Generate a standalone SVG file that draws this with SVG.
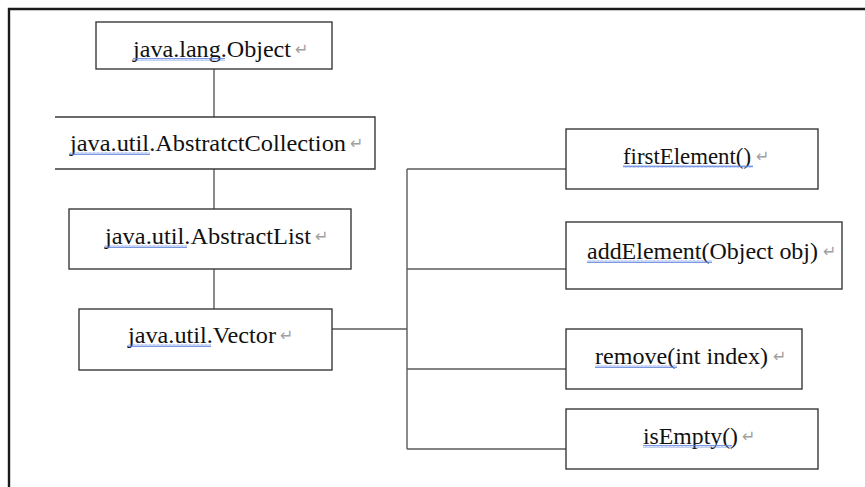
<svg xmlns="http://www.w3.org/2000/svg" width="865" height="487" viewBox="0 0 865 487">
<defs>
<pattern id="wave" x="0" y="0" width="4" height="3" patternUnits="userSpaceOnUse">
<path d="M0,2.5 L1,0.5 L2,2.5 L3,0.5 L4,2.5" fill="none" stroke="#5b7fe0" stroke-width="0.8"/>
</pattern>
<style>
.box{fill:#fff;stroke:#3a3a3a;stroke-width:1.4}
.lbl{font-family:'Liberation Serif','Times New Roman',serif;font-size:24px;fill:#111}
.ret{font-family:'DejaVu Sans',sans-serif;font-size:16px;fill:#a0a0a0}
.conn{fill:none;stroke:#5a5a5a;stroke-width:1.4}
.sq{fill:url(#wave)}
</style>
</defs>
<rect width="865" height="487" fill="#fff"/>
<path d="M9,487 V9 H865" fill="none" stroke="#1a1a1a" stroke-width="2.4"/>

<g id="connectors">
<path class="conn" d="M214,69 V117"/>
<path class="conn" d="M214,169 V209"/>
<path class="conn" d="M214,269 V309"/>
<path class="conn" d="M332,329 H407"/>
<path class="conn" d="M407,169 V449"/>
<path class="conn" d="M407,169 H566"/>
<path class="conn" d="M407,269 H566"/>
<path class="conn" d="M407,369 H566"/>
<path class="conn" d="M407,449 H566"/>
</g>

<g id="object">
<rect class="box" x="96" y="22" width="236" height="47"/>
<text class="lbl" x="133" y="57" textLength="158" lengthAdjust="spacingAndGlyphs">java.lang.Object</text>
<text class="ret" x="295" y="55">↵</text>
<rect class="sq" x="133" y="58" width="92" height="3"/>
</g>

<g id="abstractCollection">
<path d="M55,117 H375 V169 H55" fill="#fff" stroke="#3a3a3a" stroke-width="1.4"/>
<text class="lbl" x="70" y="151" textLength="276" lengthAdjust="spacingAndGlyphs">java.util.AbstratctCollection</text>
<text class="ret" x="350" y="149">↵</text>
<rect class="sq" x="70" y="152" width="80" height="3"/>
</g>

<g id="abstractList">
<rect class="box" x="69" y="209" width="282" height="60"/>
<text class="lbl" x="105" y="244" textLength="206" lengthAdjust="spacingAndGlyphs">java.util.AbstractList</text>
<text class="ret" x="315" y="242">↵</text>
<rect class="sq" x="105" y="245" width="82" height="3"/>
</g>

<g id="vector">
<rect class="box" x="79" y="309" width="253" height="61"/>
<text class="lbl" x="128" y="343" textLength="148" lengthAdjust="spacingAndGlyphs">java.util.Vector</text>
<text class="ret" x="280" y="341">↵</text>
<rect class="sq" x="128" y="344" width="83" height="3"/>
</g>

<g id="firstElement">
<rect class="box" x="566" y="129" width="252" height="60"/>
<text class="lbl" x="623" y="164" textLength="128" lengthAdjust="spacingAndGlyphs">firstElement()</text>
<text class="ret" x="756" y="162">↵</text>
<rect class="sq" x="623" y="165" width="130" height="3"/>
</g>

<g id="addElement">
<rect class="box" x="566" y="222" width="276" height="67"/>
<text class="lbl" x="587" y="259" textLength="231" lengthAdjust="spacingAndGlyphs">addElement(Object obj)</text>
<text class="ret" x="823" y="257">↵</text>
<rect class="sq" x="587" y="260" width="125" height="3"/>
</g>

<g id="remove">
<rect class="box" x="566" y="329" width="236" height="60"/>
<text class="lbl" x="595" y="364" textLength="173" lengthAdjust="spacingAndGlyphs">remove(int index)</text>
<text class="ret" x="773" y="362">↵</text>
<rect class="sq" x="595" y="365" width="82" height="3"/>
</g>

<g id="isEmpty">
<rect class="box" x="566" y="409" width="252" height="60"/>
<text class="lbl" x="643" y="444" textLength="95" lengthAdjust="spacingAndGlyphs">isEmpty()</text>
<text class="ret" x="742" y="442">↵</text>
<rect class="sq" x="643" y="445" width="89" height="3"/>
</g>
</svg>
